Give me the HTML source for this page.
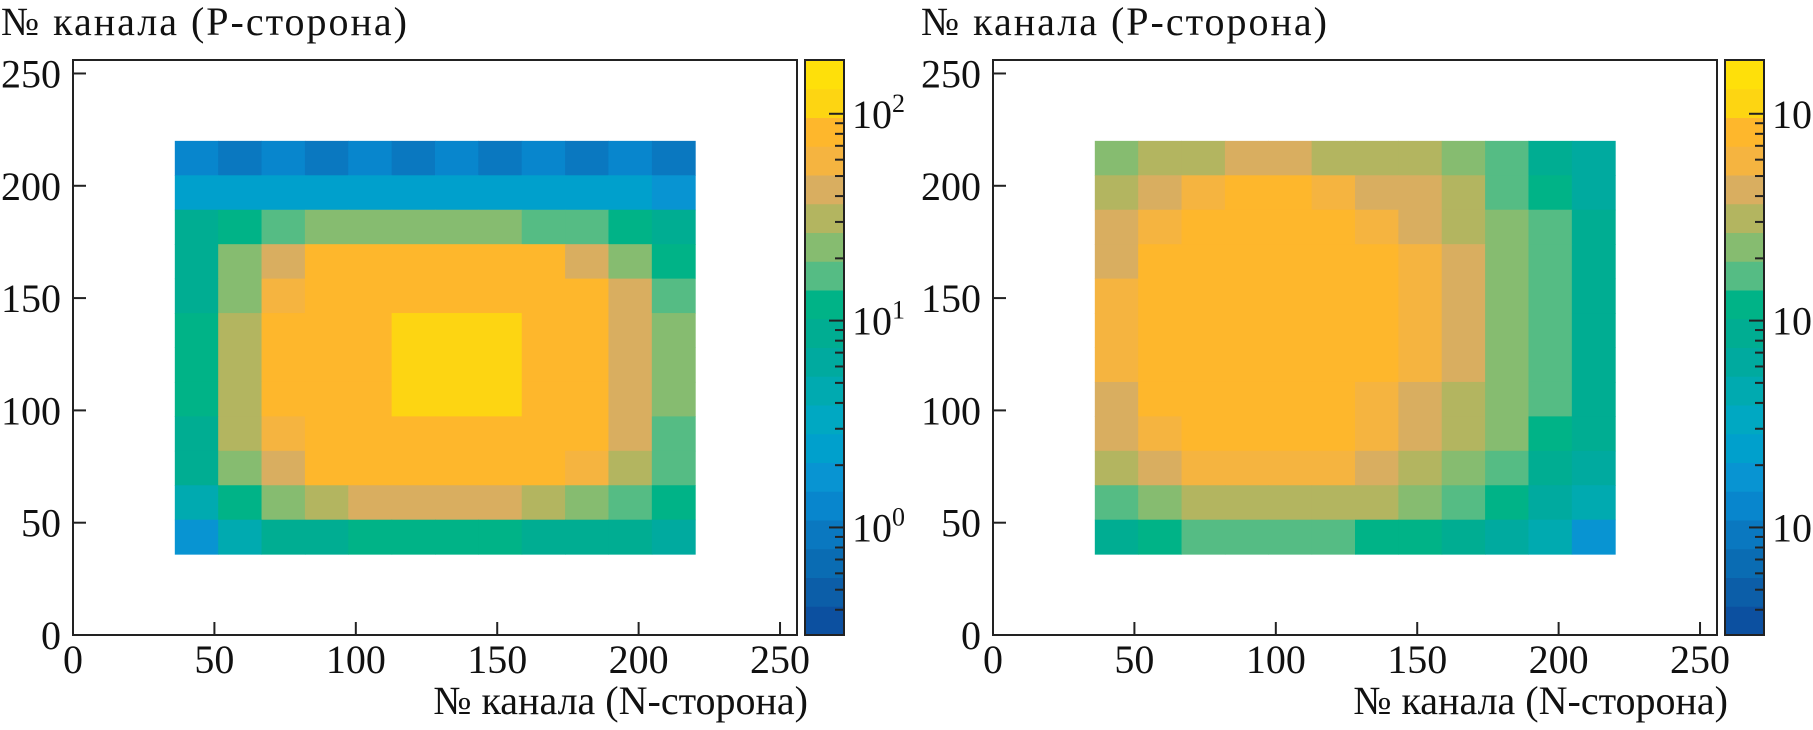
<!DOCTYPE html>
<html><head><meta charset="utf-8"><style>
html,body{margin:0;padding:0;background:#fff;}
svg{display:block;font-family:"Liberation Serif",serif;}
</style></head><body>
<svg id="fig" width="1813" height="730" viewBox="0 0 1813 730" xmlns="http://www.w3.org/2000/svg"></svg>
<script>
// ---- data ----
const xTicks = [0, 50, 100, 150, 200, 250];
const yTicks = [0, 50, 100, 150, 200, 250];
const cbDecades = [0, 1, 2];
const dataMin = 36, dataMax = 220;
// log10 counts, rows top (P=220) -> bottom (P=36), cols N=36 -> 220
const leftGrid = [
 [0.1,0.0,0.1,0.0,0.1,0.0,0.1,0.0,0.1,0.0,0.1,0.0],
 [0.4,0.45,0.4,0.45,0.4,0.45,0.4,0.45,0.4,0.4,0.35,0.3],
 [1.0,1.1,1.2,1.3,1.35,1.35,1.35,1.3,1.25,1.2,1.05,0.9],
 [1.0,1.3,1.7,1.85,1.9,1.9,1.9,1.9,1.85,1.7,1.4,1.1],
 [1.0,1.4,1.8,1.9,1.9,1.92,1.95,1.92,1.9,1.85,1.6,1.2],
 [1.05,1.5,1.85,1.9,1.95,2.0,2.05,2.0,1.95,1.9,1.7,1.3],
 [1.05,1.55,1.85,1.9,1.95,2.05,2.1,2.05,1.95,1.9,1.7,1.3],
 [1.05,1.5,1.85,1.9,1.95,2.0,2.05,2.0,1.95,1.9,1.7,1.3],
 [1.0,1.45,1.8,1.9,1.9,1.95,1.95,1.95,1.9,1.85,1.65,1.25],
 [1.0,1.3,1.65,1.85,1.9,1.9,1.9,1.9,1.85,1.75,1.5,1.2],
 [0.7,1.05,1.3,1.5,1.6,1.65,1.65,1.6,1.5,1.4,1.25,1.1],
 [0.3,0.6,0.9,1.0,1.05,1.1,1.1,1.05,1.0,0.95,0.9,0.8]
];
const rightGrid = [
 [1.4,1.5,1.55,1.6,1.6,1.55,1.5,1.45,1.3,1.15,0.95,0.8],
 [1.55,1.7,1.8,1.85,1.85,1.8,1.7,1.6,1.45,1.25,1.05,0.85],
 [1.65,1.8,1.88,1.9,1.9,1.88,1.8,1.7,1.55,1.35,1.15,0.95],
 [1.7,1.85,1.9,1.92,1.92,1.9,1.85,1.72,1.6,1.4,1.2,1.0],
 [1.72,1.88,1.9,1.93,1.95,1.9,1.85,1.75,1.6,1.4,1.2,1.0],
 [1.72,1.88,1.92,1.95,1.95,1.9,1.85,1.75,1.6,1.4,1.2,1.0],
 [1.72,1.88,1.92,1.95,1.95,1.9,1.85,1.75,1.6,1.4,1.2,1.0],
 [1.7,1.85,1.9,1.92,1.92,1.9,1.82,1.7,1.55,1.38,1.15,0.95],
 [1.62,1.8,1.87,1.9,1.9,1.87,1.78,1.65,1.5,1.3,1.1,0.9],
 [1.5,1.65,1.75,1.8,1.8,1.75,1.65,1.5,1.4,1.2,1.0,0.8],
 [1.25,1.4,1.5,1.55,1.55,1.5,1.45,1.35,1.2,1.05,0.85,0.6],
 [0.95,1.05,1.15,1.2,1.2,1.15,1.1,1.05,0.95,0.85,0.6,0.3]
];
const palette = ["#0c50a0","#0c5ea8","#0a6cb3","#0a78c0","#0886cd","#0894d2","#00a0cc","#00a8c2","#00aab0","#00aa9f","#00ad92","#00b387","#55bc84","#86bc70","#b3b560","#d9ae60","#f5b440","#feb72c","#fdd512","#fee00a"];
const logLo = -0.52, logHi = 2.26;

// ---- layout ----
const NS = "http://www.w3.org/2000/svg";
const svg = document.getElementById('fig');
function mk(tag, attrs, parent) {
  const e = document.createElementNS(NS, tag);
  for (const k in attrs) e.setAttribute(k, attrs[k]);
  (parent || svg).appendChild(e);
  return e;
}
function colorOf(v) {
  let i = Math.floor((v - logLo) / (logHi - logLo) * palette.length);
  i = Math.max(0, Math.min(palette.length - 1, i));
  return palette[i];
}
function panel(off, grid, name) {
  const L = 73 + off, R = 797 + off, T = 60, B = 635;
  const sx = v => L + v / 256 * (R - L);
  const sy = v => B - v / 256 * (B - T);
  const g = mk('g', {});
  
  
  const rows = grid.length, cols = grid[0].length;
  const step = (dataMax - dataMin) / cols;
  for (let r = 0; r < rows; r++) for (let c = 0; c < cols; c++) {
    const x0 = sx(dataMin + c * step), x1 = sx(dataMin + (c + 1) * step);
    const yTop = dataMax - r * step, yBot = dataMax - (r + 1) * step;
    const cell = mk('rect', {x: x0, y: sy(yTop), width: x1 - x0 + 0.5, height: sy(yBot) - sy(yTop) + 0.5, fill: colorOf(grid[r][c])}, g);
    
    
  }
  const fr = mk('rect', {x: L, y: T, width: R - L, height: B - T, fill: 'none', stroke: '#222', 'stroke-width': 2}, g);
  
  
  xTicks.forEach(t => {
    mk('line', {x1: sx(t), x2: sx(t), y1: B, y2: B - 13, stroke: '#222', 'stroke-width': 2}, g);
    const tx = mk('text', {x: sx(t), y: 673, 'font-size': 40, 'text-anchor': 'middle', fill: '#111'}, g);
    tx.textContent = t;
    
    
  });
  yTicks.forEach(t => {
    mk('line', {x1: L, x2: L + 13, y1: sy(t), y2: sy(t), stroke: '#222', 'stroke-width': 2}, g);
    const ty = mk('text', {x: L - 12, y: sy(t) + 14, 'font-size': 40, 'text-anchor': 'end', fill: '#111'}, g);
    ty.textContent = t;
    
    
  });
  const yt = mk('text', {x: off + 1, y: 35, 'font-size': 40, fill: '#111', textLength: 406}, g);
  yt.textContent = '№ канала (P-сторона)';
  
  
  const xt = mk('text', {x: 808 + off, y: 714, 'font-size': 40, fill: '#111', 'text-anchor': 'end'}, g);
  xt.textContent = '№ канала (N-сторона)';
  
  
  // colorbar
  const CL = 805 + off, CR = 844 + off;
  const cb = mk('g', {}, g);
  
  
  const bh = (B - T) / palette.length;
  palette.forEach((c, i) => {
    mk('rect', {x: CL, y: B - (i + 1) * bh, width: CR - CL, height: bh + 0.5, fill: c}, cb);
  });
  mk('rect', {x: CL, y: T, width: CR - CL, height: B - T, fill: 'none', stroke: '#222', 'stroke-width': 2}, cb);
  const sl = v => B - (v - logLo) / (logHi - logLo) * (B - T);
  for (let d = -1; d <= 2; d++) for (let m = 1; m <= 9; m++) {
    const lv = d + Math.log10(m);
    if (lv < logLo || lv > logHi) continue;
    const len = m === 1 ? 15 : 9;
    mk('line', {x1: CR - len, x2: CR, y1: sl(lv), y2: sl(lv), stroke: '#222', 'stroke-width': 2}, cb);
  }
  cbDecades.forEach(d => {
    const t = mk('text', {x: 852 + off, y: sl(d) + 14, 'font-size': 40, fill: '#111'}, cb);
    t.textContent = '10';
    const s = mk('tspan', {'font-size': 26, dy: -16}, t);
    s.textContent = d;
    
    
  });
}
panel(0, leftGrid, 'left-heatmap-panel');
panel(920, rightGrid, 'right-heatmap-panel');
</script>
</body></html>
